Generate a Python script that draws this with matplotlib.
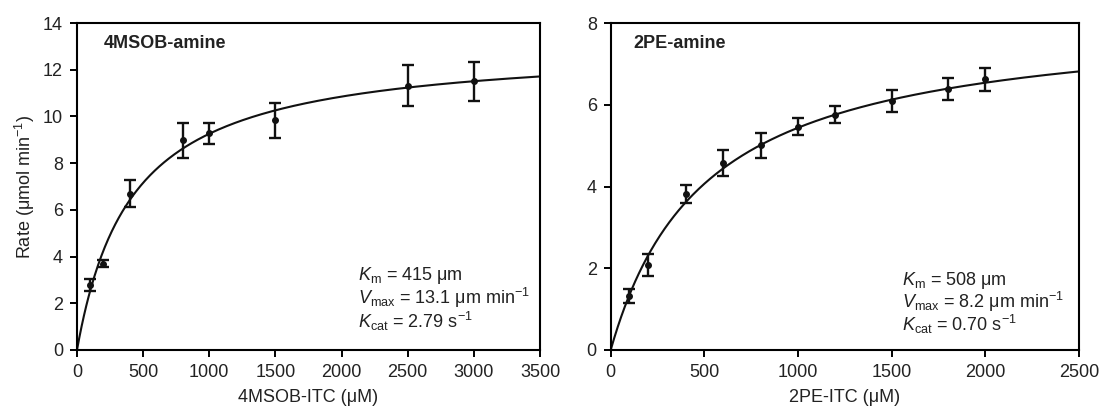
"""Michaelis-Menten kinetics for 4MSOB-amine and 2PE-amine."""

import matplotlib
matplotlib.use("Agg")
import matplotlib.pyplot as plt
import numpy as np

plt.rcParams['font.family'] = ['Liberation Sans', 'DejaVu Sans']
plt.rcParams['mathtext.fontset'] = 'custom'
plt.rcParams['mathtext.rm'] = 'Liberation Sans'
plt.rcParams['mathtext.it'] = 'Liberation Sans:italic'
plt.rcParams['text.color'] = '#222222'
plt.rcParams['axes.labelcolor'] = '#222222'
plt.rcParams['xtick.labelcolor'] = '#222222'
plt.rcParams['ytick.labelcolor'] = '#222222'

# 4MSOB-amine
msob_conc = [100, 200, 400, 800, 1000, 1500, 2500, 3000]
msob_rate = [2.78, 3.70, 6.70, 8.97, 9.29, 9.83, 11.32, 11.50]
msob_err = [0.26, 0.15, 0.58, 0.77, 0.45, 0.75, 0.89, 0.84]
msob_km, msob_vmax = 415, 13.1

# 2PE-amine
pe_conc = [100, 200, 400, 600, 800, 1000, 1200, 1500, 1800, 2000]
pe_rate = [1.33, 2.08, 3.82, 4.58, 5.01, 5.46, 5.76, 6.10, 6.39, 6.62]
pe_err = [0.17, 0.27, 0.22, 0.32, 0.31, 0.21, 0.21, 0.27, 0.27, 0.28]
pe_km, pe_vmax = 508, 8.2


def draw_panel(ax, conc, rate, err, km, vmax, xmax, ymax, title, xlabel, params, px):
    xs = np.linspace(0, xmax, 400)
    ax.plot(xs, vmax * xs / (km + xs), color='#111111', lw=1.5)
    ax.errorbar(conc, rate, yerr=err, fmt='o', color='#111111', ms=4,
                elinewidth=1.7, capsize=4.5, capthick=1.7)
    ax.set_xlim(0, xmax)
    ax.set_ylim(0, ymax)
    ax.set_xlabel(xlabel, fontsize=13, labelpad=6)
    ax.tick_params(labelsize=13, length=5, width=1.4, direction='out', pad=5)
    for s in ax.spines.values():
        s.set_linewidth(1.5)
    ax.tick_params(top=False, right=False)
    ax.text(px[0], 0.936, title, transform=ax.transAxes, fontsize=13,
            fontweight='bold', va='center', ha='left')
    for (txt, y) in params:
        ax.text(px[1], y, txt, transform=ax.transAxes, fontsize=13,
                va='center', ha='left')


fig = plt.figure(figsize=(11.02, 4.09), dpi=100)
ax1 = fig.add_axes([77 / 1102, 59 / 409, 463 / 1102, 327 / 409])
ax2 = fig.add_axes([610.7 / 1102, 59 / 409, 468.3 / 1102, 327 / 409])

draw_panel(ax1, msob_conc, msob_rate, msob_err, msob_km, msob_vmax, 3500, 14,
           '4MSOB-amine', '4MSOB-ITC (μM)',
           [(r'$\mathit{K}_\mathrm{m}$ = 415 μm', 0.228),
            (r'$\mathit{V}_\mathrm{max}$ = 13.1 μm min$^{-1}$', 0.158),
            (r'$\mathit{K}_\mathrm{cat}$ = 2.79 s$^{-1}$', 0.087)],
           (0.057, 0.607))
ax1.set_xticks(np.arange(0, 3501, 500))
ax1.set_yticks(np.arange(0, 15, 2))
ax1.set_ylabel('Rate (μmol min$^{-1}$)', fontsize=13, labelpad=4)

draw_panel(ax2, pe_conc, pe_rate, pe_err, pe_km, pe_vmax, 2500, 8,
           '2PE-amine', '2PE-ITC (μM)',
           [(r'$\mathit{K}_\mathrm{m}$ = 508 μm', 0.214),
            (r'$\mathit{V}_\mathrm{max}$ = 8.2 μm min$^{-1}$', 0.146),
            (r'$\mathit{K}_\mathrm{cat}$ = 0.70 s$^{-1}$', 0.077)],
           (0.048, 0.623))
ax2.set_xticks(np.arange(0, 2501, 500))
ax2.set_yticks(np.arange(0, 9, 2))

fig.savefig('out.png', dpi=100)
